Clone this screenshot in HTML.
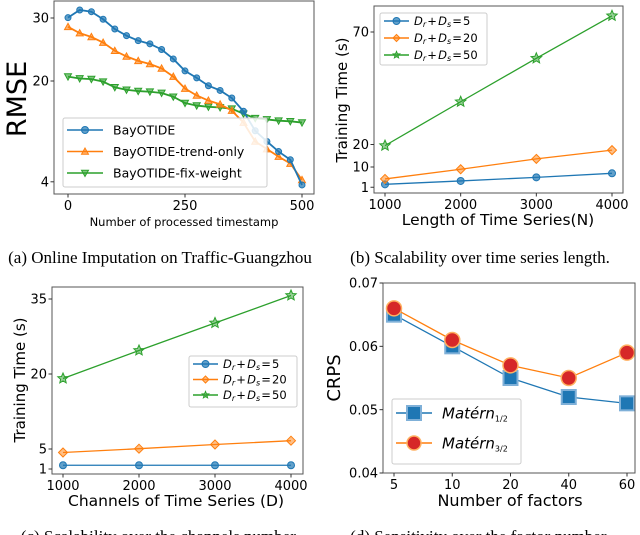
<!DOCTYPE html>
<html><head><meta charset="utf-8"><style>
body{margin:0;background:#fff;width:640px;height:535px;overflow:hidden}
svg{display:block;font-family:"DejaVu Sans","Liberation Sans",sans-serif}
</style></head><body>
<svg id="fig" width="640" height="535" viewBox="0 0 640 535"></svg>
<script>
// Panel a data
const aX=[0,25,50,75,100,125,150,175,200,225,250,275,300,325,350,375,400,425,450,475,500];
const aBlue=[30.05,31.27,31.0,29.8,28.25,27.2,26.4,25.9,25.0,23.5,21.6,20.5,19.25,18.5,17.3,15.2,12.1,10.4,8.8,7.5,3.5];
const aOrange=[28.6,27.6,27.0,26.1,24.8,23.9,23.2,22.7,22.0,20.7,18.8,17.7,16.9,16.3,15.3,13.4,10.4,9.2,8.0,6.9,4.3];
const aGreen=[20.7,20.4,20.3,19.9,19.0,18.6,18.4,18.3,18.1,17.5,16.5,16.1,15.9,15.8,15.6,14.8,14.1,13.9,13.7,13.6,13.4];
const aXTicks=[0,250,500];const aYTicks=[4,20,30];
// Panel b data
const bX=[1000,2000,3000,4000];
const b5=[2.3,3.8,5.4,7.2];const b20=[4.7,9.0,13.6,17.5];const b50=[19.5,39.0,58.3,77.2];
const bYTicks=[1,10,20,70];
// Panel c data
const cX=[1000,2000,3000,4000];
const c5=[1.75,1.75,1.75,1.75];const c20=[4.3,5.06,5.9,6.66];const c50=[19.1,24.7,30.2,35.7];
const cYTicks=[1,5,20,35];
// Panel d data
const dCats=["5","10","20","40","60"];
const dM12=[0.065,0.060,0.055,0.052,0.051];
const dM32=[0.066,0.061,0.057,0.055,0.059];
const dYTicks=[0.04,0.05,0.06,0.07];

const NS="http://www.w3.org/2000/svg";const svg=document.getElementById('fig');
function el(t,a,p){const e=document.createElementNS(NS,t);for(const k in a)e.setAttribute(k,a[k]);(p||svg).appendChild(e);return e;}
function txt(s,a,p){const e=el('text',a,p);e.textContent=s;return e;}
const C={b:'#1f77b4',o:'#ff7f0e',g:'#2ca02c',r:'#d62728'};
const SERIF='"Liberation Serif", serif';
function marker(g,type,x,y,col,s){
  let e;
  if(type==='o')e=el('circle',{cx:x,cy:y,r:s,fill:col,'fill-opacity':0.7,stroke:col},g);
  else if(type==='^')e=el('polygon',{points:`${x},${y-s} ${x-s},${y+s*0.8} ${x+s},${y+s*0.8}`,fill:col,'fill-opacity':0.6,stroke:col},g);
  else if(type==='v')e=el('polygon',{points:`${x},${y+s} ${x-s},${y-s*0.8} ${x+s},${y-s*0.8}`,fill:col,'fill-opacity':0.6,stroke:col},g);
  else if(type==='D')e=el('polygon',{points:`${x},${y-s} ${x+s},${y} ${x},${y+s} ${x-s},${y}`,fill:col,'fill-opacity':0.5,stroke:col},g);
  else if(type==='*'){let p=[];for(let i=0;i<10;i++){const r=i%2?s*0.45:s,an=-Math.PI/2+i*Math.PI/5;p.push((x+r*Math.cos(an)).toFixed(1)+','+(y+r*Math.sin(an)).toFixed(1));}
    e=el('polygon',{points:p.join(' '),fill:col,'fill-opacity':0.5,stroke:col},g);}
  else if(type==='s')e=el('rect',{x:x-s,y:y-s,width:2*s,height:2*s,fill:'#1f77b4',stroke:'#7fb0d8','stroke-width':2},g);
  else if(type==='O')e=el('circle',{cx:x,cy:y,r:s,fill:C.r,stroke:'#ffb060','stroke-width':1.5},g);
  
  
  return e;
}
function series(g,xs,ys,fx,fy,col,type,s,lw,name){
  const sg=el('g',{},g);
  
  
  el('polyline',{points:xs.map((x,i)=>fx(x,i)+','+fy(ys[i])).join(' '),fill:'none',stroke:col,'stroke-width':lw},sg);
  xs.forEach((x,i)=>marker(sg,type,fx(x,i),fy(ys[i]),col,s));
}
function frame(g,l,t,r,b){el('rect',{x:l,y:t,width:r-l,height:b-t,fill:'none',stroke:'#555','stroke-width':1},g);}
function xtick(g,x,b,lab,fs){el('line',{x1:x,x2:x,y1:b,y2:b+3.5,stroke:'#333'},g);txt(lab,{x:x,y:b+5+fs*0.85,'font-size':fs,'text-anchor':'middle'},g);}
function ytick(g,y,l,lab,fs){el('line',{x1:l-3.5,x2:l,y1:y,y2:y,stroke:'#333'},g);txt(lab,{x:l-5,y:y+fs*0.36,'font-size':fs,'text-anchor':'end'},g);}
function legend(g,x,y,w,h,items,fs,ms,gap){
  const lg=el('g',{},g);
  
  
  el('rect',{x:x,y:y,width:w,height:h,fill:'#fff','fill-opacity':0.85,stroke:'#ccc',rx:2},lg);
  items.forEach((it,i)=>{const yy=y+gap[0]+i*gap[1];
    const eg=el('g',{},lg);
    
    
    el('line',{x1:x+4,x2:x+4+gap[2],y1:yy,y2:yy,stroke:it.c,'stroke-width':it.lw||1.5},eg);
    marker(eg,it.m,x+4+gap[2]/2,yy,it.c,ms);
    const t=txt('',{x:x+gap[2]+(gap[3]||12),y:yy+fs*0.36,'font-size':fs},eg);t.innerHTML=it.t;});
}
const dlab=n=>`<tspan font-style="italic">D</tspan><tspan font-style="italic" font-size="8" dy="2">r</tspan><tspan dy="-2">&#8202;+&#8202;</tspan><tspan font-style="italic">D</tspan><tspan font-style="italic" font-size="8" dy="2">s</tspan><tspan dy="-2">&#8202;=&#8202;${n}</tspan>`;

// ---- Panel A
(function(){const g=el('g',{});
const L=54,T=1,R=314,B=194;const fx=v=>68+(v-0)/500*234,fy=v=>81-(v-20)*6.3;
series(g,aX,aGreen,fx,fy,C.g,'v',3.5,1.8,'series-fix-weight');
series(g,aX,aOrange,fx,fy,C.o,'^',3.5,1.8,'series-trend-only');
series(g,aX,aBlue,fx,fy,C.b,'o',3,1.8,'series-bayotide');
frame(g,L,T,R,B);
aXTicks.forEach(v=>xtick(g,fx(v),B,String(v),13));aYTicks.forEach(v=>ytick(g,fy(v),L,String(v),13));
legend(g,63,118,204,69,[{t:'BayOTIDE',c:C.b,m:'o'},{t:'BayOTIDE-trend-only',c:C.o,m:'^'},{t:'BayOTIDE-fix-weight',c:C.g,m:'v'}],12.5,3.5,[12,21.5,36,14]);
txt('RMSE',{x:0,y:0,'font-size':27,'text-anchor':'middle',transform:'translate(26,99) rotate(-90)',},g);
txt('Number of processed timestamp',{x:184,y:226,'font-size':11.5,'text-anchor':'middle',},g);
txt('(a) Online Imputation on Traffic-Guangzhou',{x:160,y:263,'font-family':SERIF,'font-size':17,'text-anchor':'middle',},g);})();

// ---- Panel B
(function(){const g=el('g',{});
const L=374,T=6,R=623,B=193;const fx=v=>385+(v-1000)/3000*227,fy=v=>167-(v-10)*2.25;
series(g,bX,b5,fx,fy,C.b,'o',3.5,1.3,'series-d5');
series(g,bX,b20,fx,fy,C.o,'D',4.5,1.3,'series-d20');
series(g,bX,b50,fx,fy,C.g,'*',5.5,1.3,'series-d50');
frame(g,L,T,R,B);
bX.forEach(v=>xtick(g,fx(v),B,String(v),13));bYTicks.forEach(v=>ytick(g,fy(v),L,String(v),13));
legend(g,380,13,107,52,[{t:dlab(5),c:C.b,m:'o'},{t:dlab(20),c:C.o,m:'D'},{t:dlab(50),c:C.g,m:'*'}],11.5,3.5,[8,17,25,9]);
txt('Training Time (s)',{x:0,y:0,'font-size':15,'text-anchor':'middle',transform:'translate(347,100) rotate(-90)',},g);
txt('Length of Time Series(N)',{x:498,y:225,'font-size':15.5,'text-anchor':'middle',},g);
txt('(b) Scalability over time series length.',{x:480,y:263,'font-family':SERIF,'font-size':17,'text-anchor':'middle',},g);})();

// ---- Panel C
(function(){const g=el('g',{});
const L=52,T=287,R=303,B=474;const fx=v=>63+(v-1000)/3000*228,fy=v=>374-(v-20)*5;
series(g,cX,c5,fx,fy,C.b,'o',3.5,1.3,'series-d5');
series(g,cX,c20,fx,fy,C.o,'D',4.5,1.3,'series-d20');
series(g,cX,c50,fx,fy,C.g,'*',5.5,1.3,'series-d50');
frame(g,L,T,R,B);
cX.forEach(v=>xtick(g,fx(v),B,String(v),13));cYTicks.forEach(v=>ytick(g,fy(v),L,String(v),13));
legend(g,189,356,108,51,[{t:dlab(5),c:C.b,m:'o'},{t:dlab(20),c:C.o,m:'D'},{t:dlab(50),c:C.g,m:'*'}],11.5,3.5,[8,15.5,25,9]);
txt('Training Time (s)',{x:0,y:0,'font-size':15,'text-anchor':'middle',transform:'translate(25,380) rotate(-90)',},g);
txt('Channels of Time Series (D)',{x:176,y:506,'font-size':15.5,'text-anchor':'middle',},g);
txt('(c) Scalability over the channels number.',{x:160,y:542,'font-family':SERIF,'font-size':17,'text-anchor':'middle',},g);})();

// ---- Panel D
(function(){const g=el('g',{});
const L=383,T=283,R=635,B=473;const fx=(v,i)=>394+i*58.25,fy=v=>473-(v-0.04)*6333;
series(g,dCats,dM12,fx,fy,C.b,'s',7,1.3,'series-matern12');
series(g,dCats,dM32,fx,fy,C.o,'O',7.5,1.3,'series-matern32');
frame(g,L,T,R,B);
dCats.forEach((v,i)=>xtick(g,fx(v,i),B,v,13));dYTicks.forEach(v=>ytick(g,fy(v),L,v.toFixed(2),13));
legend(g,392,399,129,65,[{t:'<tspan font-style="italic">Matérn</tspan><tspan font-size="8" dy="3">1/2</tspan>',c:C.b,m:'s'},{t:'<tspan font-style="italic">Matérn</tspan><tspan font-size="8" dy="3">3/2</tspan>',c:C.o,m:'O'}],15,7,[14,30,36,14]);
txt('CRPS',{x:0,y:0,'font-size':18,'text-anchor':'middle',transform:'translate(340,378) rotate(-90)',},g);
txt('Number of factors',{x:510,y:506,'font-size':16,'text-anchor':'middle',},g);
txt('(d) Sensitivity over the factor number.',{x:480,y:542,'font-family':SERIF,'font-size':17,'text-anchor':'middle',},g);})();
</script>
</body></html>
